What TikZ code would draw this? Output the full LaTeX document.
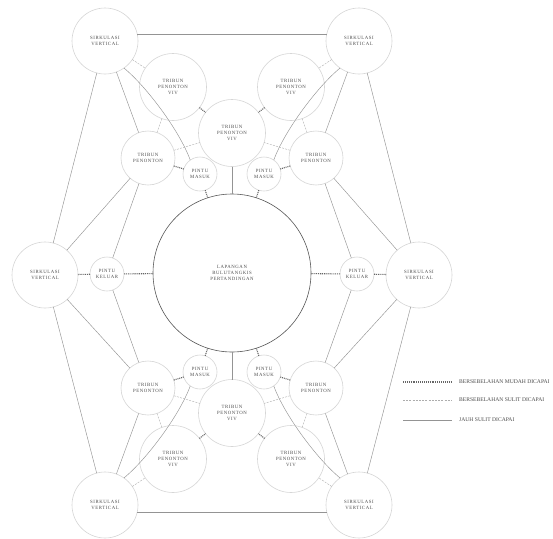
\documentclass[tikz,border=0pt]{standalone}
\usepackage{fontspec}
\setmainfont{Liberation Serif}
\newfontfamily\lblfont[LetterSpace=12]{Liberation Serif}
\begin{document}
\begin{tikzpicture}[x=1pt,y=-1pt,
  lbl/.style={font=\lblfont\fontsize{4.8}{5.8}\selectfont, text=black!70, align=center},
  ring/.style={circle, draw=black!16, line width=0.6pt, inner sep=0pt, outer sep=0pt, lbl},
  sirk/.style={ring, minimum size=66pt},
  viv/.style={ring, minimum size=67pt},
  tp/.style={ring, minimum size=54pt},
  pintu/.style={ring, minimum size=34pt},
  lap/.style={circle, draw=black!65, line width=0.6pt, inner sep=0pt, outer sep=0pt, minimum size=158pt, lbl},
  far/.style={draw=black!42, line width=0.45pt},
  hard/.style={draw=black!32, line width=0.4pt, dash pattern=on 2pt off 1.2pt},
  easy/.style={draw=black!60, line width=1.1pt, dash pattern=on 1pt off 0.9pt},
  legtxt/.style={font=\fontsize{5.6}{6.4}\selectfont, text=black!70, anchor=west, inner sep=0pt}
]
\useasboundingbox (0,0) rectangle (553,538);
\fill[white] (0,0) rectangle (553,538);

% nodes
\node[sirk] (TL) at (105,41) {SIRKULASI\\VERTICAL};
\node[sirk] (TR) at (359,41) {SIRKULASI\\VERTICAL};
\node[sirk] (L)  at (45,275) {SIRKULASI\\VERTICAL};
\node[sirk] (R)  at (419,275) {SIRKULASI\\VERTICAL};
\node[sirk] (BL) at (105,505) {SIRKULASI\\VERTICAL};
\node[sirk] (BR) at (359,505) {SIRKULASI\\VERTICAL};

\node[viv] (VIVt) at (232,133) {TRIBUN\\PENONTON\\VIV};
\node[viv] (VIVb) at (232,413) {TRIBUN\\PENONTON\\VIV};
\node[viv] (VIVtl) at (173,87) {TRIBUN\\PENONTON\\VIV};
\node[viv] (VIVtr) at (291,87) {TRIBUN\\PENONTON\\VIV};
\node[viv] (VIVbl) at (173,459) {TRIBUN\\PENONTON\\VIV};
\node[viv] (VIVbr) at (291,459) {TRIBUN\\PENONTON\\VIV};

\node[tp] (TPtl) at (148,158) {TRIBUN\\PENONTON};
\node[tp] (TPtr) at (316,158) {TRIBUN\\PENONTON};
\node[tp] (TPbl) at (148,388) {TRIBUN\\PENONTON};
\node[tp] (TPbr) at (316,388) {TRIBUN\\PENONTON};

\node[pintu] (PMtl) at (200,174) {PINTU\\MASUK};
\node[pintu] (PMtr) at (264,174) {PINTU\\MASUK};
\node[pintu] (PMbl) at (200,372) {PINTU\\MASUK};
\node[pintu] (PMbr) at (264,372) {PINTU\\MASUK};

\node[pintu] (PKl) at (107,274) {PINTU\\KELUAR};
\node[pintu] (PKr) at (357,274) {PINTU\\KELUAR};

\node[lap] (LAP) at (232,273) {LAPANGAN\\BULUTANGKIS\\PERTANDINGAN};

% far (solid) connectors
\draw[far] (TL.12) -- (TR.168);
\draw[far] (BL.-12) -- (BR.192);
\draw[far] (TL) -- (L);
\draw[far] (L) -- (BL);
\draw[far] (TR) -- (R);
\draw[far] (R) -- (BR);
\draw[far] (TL) -- (TPtl);
\draw[far] (TR) -- (TPtr);
\draw[far] (BL) -- (TPbl);
\draw[far] (BR) -- (TPbr);
\draw[far] (L) -- (TPtl);
\draw[far] (L) -- (TPbl);
\draw[far] (R) -- (TPtr);
\draw[far] (R) -- (TPbr);
\draw[far] (PKl) -- (TPtl);
\draw[far] (PKl) -- (TPbl);
\draw[far] (PKr) -- (TPtr);
\draw[far] (PKr) -- (TPbr);
\draw[far] (TL.-55) .. controls +(22,18) and +(-11,-30) .. (PMtl.125);
\draw[far] (TR.-125) .. controls +(-22,18) and +(11,-30) .. (PMtr.55);
\draw[far] (BL.55) .. controls +(22,-18) and +(-11,30) .. (PMbl.-125);
\draw[far] (BR.125) .. controls +(-22,-18) and +(11,30) .. (PMbr.-55);
\draw[far] (VIVt) -- (LAP);
\draw[far] (VIVb) -- (LAP);

% hard (dashed) short connectors
\draw[hard] (TL) -- (VIVtl);
\draw[hard] (TR) -- (VIVtr);
\draw[hard] (BL) -- (VIVbl);
\draw[hard] (BR) -- (VIVbr);
\draw[hard] (TPtl) -- (VIVtl);
\draw[hard] (TPtr) -- (VIVtr);
\draw[hard] (TPbl) -- (VIVbl);
\draw[hard] (TPbr) -- (VIVbr);
\draw[hard] (TPtl) -- (VIVt);
\draw[hard] (TPtr) -- (VIVt);
\draw[hard] (TPbl) -- (VIVb);
\draw[hard] (TPbr) -- (VIVb);

% easy (dotted) short connectors
\draw[easy] (VIVtl) -- (VIVt);
\draw[easy] (VIVtr) -- (VIVt);
\draw[easy] (VIVbl) -- (VIVb);
\draw[easy] (VIVbr) -- (VIVb);
\draw[easy] (TPtl) -- (PMtl);
\draw[easy] (TPtr) -- (PMtr);
\draw[easy] (TPbl) -- (PMbl);
\draw[easy] (TPbr) -- (PMbr);
\draw[easy] (PMtl) -- (LAP);
\draw[easy] (PMtr) -- (LAP);
\draw[easy] (PMbl) -- (LAP);
\draw[easy] (PMbr) -- (LAP);
\draw[easy] (PKl) -- (LAP);
\draw[easy] (PKr) -- (LAP);
\draw[easy] (PKl) -- (L);
\draw[easy] (PKr) -- (R);

% legend
\coordinate (e1) at (403,382); \coordinate (e2) at (452,382);
\coordinate (h1) at (403,400); \coordinate (h2) at (452,400);
\coordinate (f1) at (403,420); \coordinate (f2) at (452,420);
\draw[easy] (e1) -- (e2);
\draw[hard] (h1) -- (h2);
\draw[far] (f1) -- (f2);
\node[legtxt] (t1) at (459,382) {BERSEBELAHAN MUDAH DICAPAI};
\node[legtxt] (t2) at (459,400) {BERSEBELAHAN SULIT DICAPAI};
\node[legtxt] (t3) at (459,420) {JAUH SULIT DICAPAI};
\end{tikzpicture}
\end{document}
